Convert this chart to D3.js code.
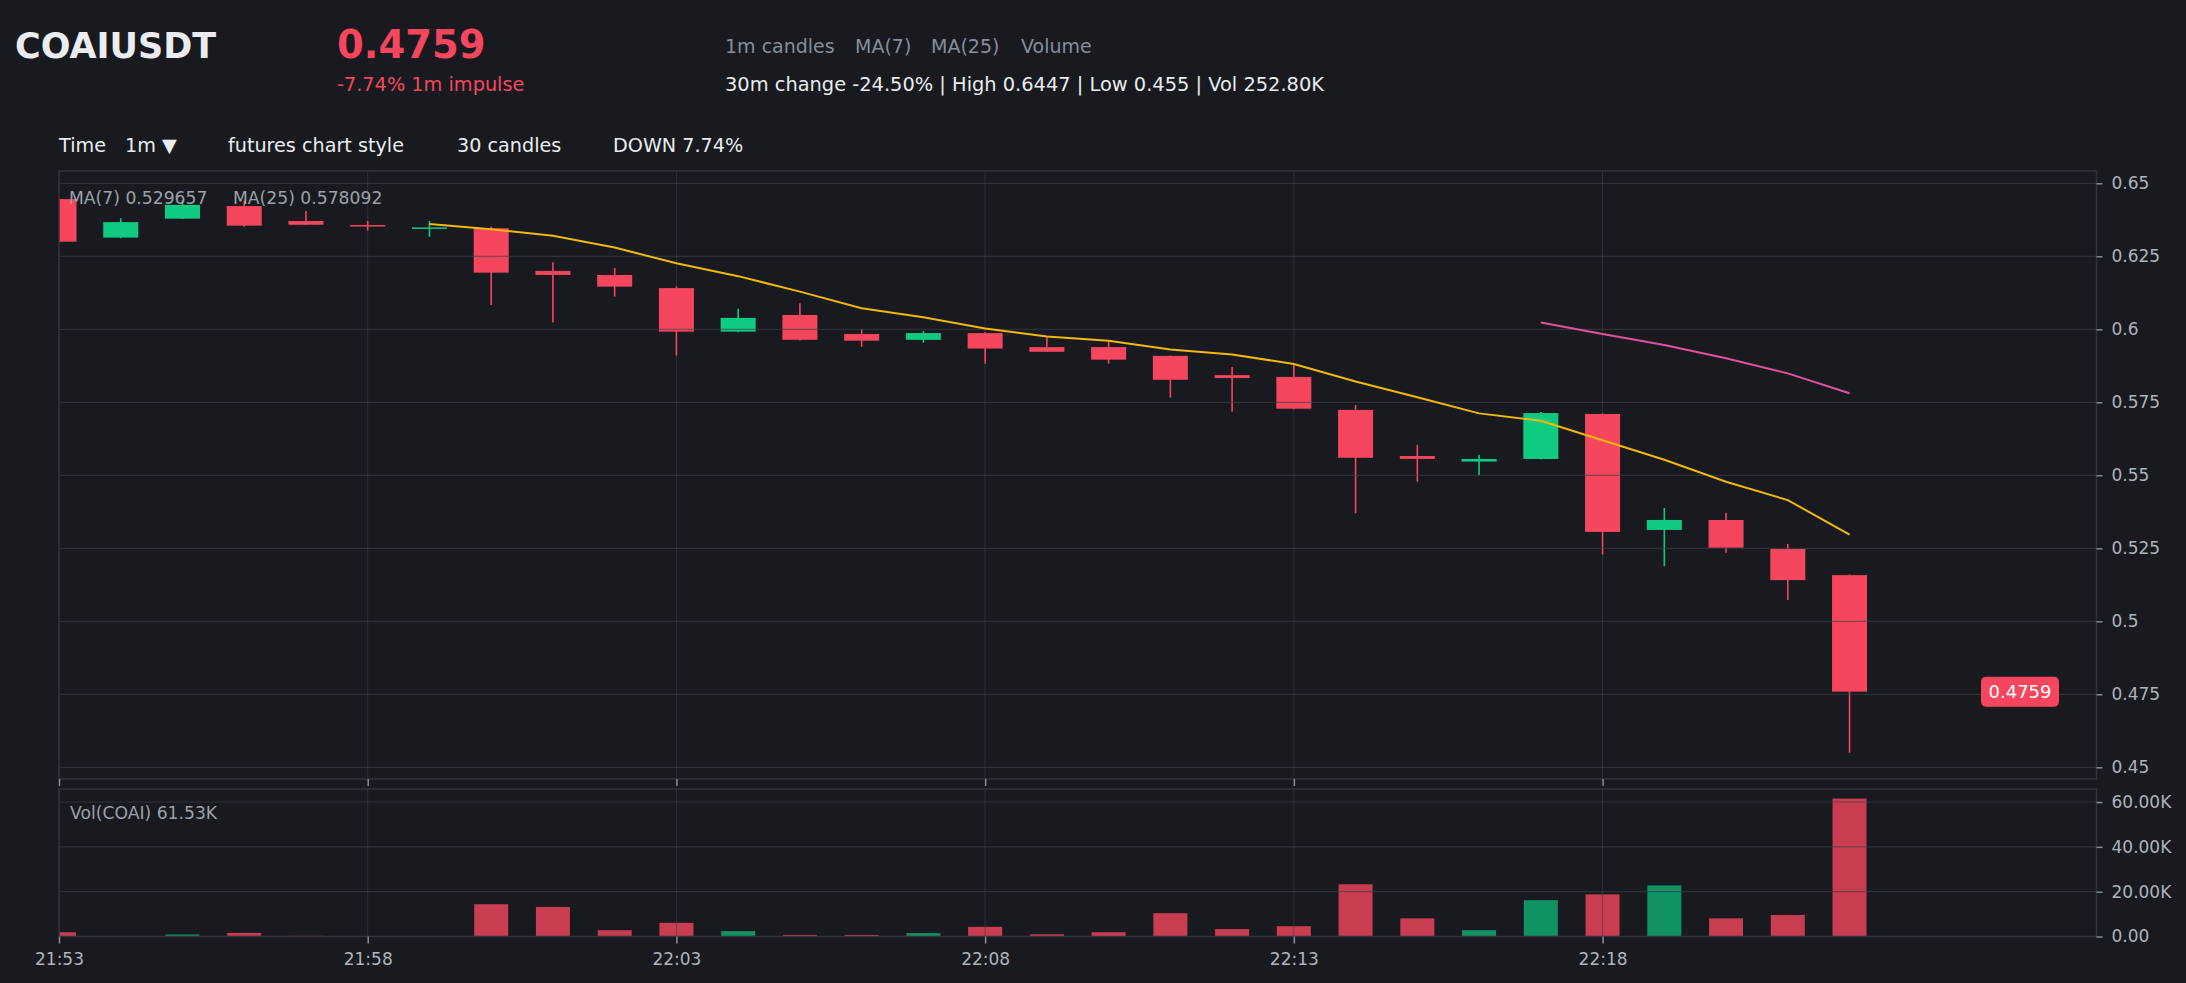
<!DOCTYPE html>
<html><head><meta charset="utf-8">
<script src="https://cdn.jsdelivr.net/npm/d3@7"></script>
<style>
html,body{margin:0;padding:0;background:#181a20;overflow:hidden;}
svg{display:block;font-family:"DejaVu Sans",sans-serif;}
</style></head>
<body>
<svg id="chart" width="2186" height="983"></svg>
<script>
// ---------- data ----------
const times = ["21:53","21:54","21:55","21:56","21:57","21:58","21:59","22:00","22:01","22:02",
               "22:03","22:04","22:05","22:06","22:07","22:08","22:09","22:10","22:11","22:12",
               "22:13","22:14","22:15","22:16","22:17","22:18","22:19","22:20","22:21","22:22"];
const opens  = [0.6446,0.6314,0.6379,0.6422,0.6371,0.6357,0.6346,0.6346,0.6200,0.6186,
                0.6141,0.5992,0.6049,0.5984,0.5964,0.5987,0.5939,0.5939,0.5909,0.5843,
                0.5837,0.5724,0.5566,0.5547,0.5556,0.5710,0.5313,0.5347,0.5248,0.5158];
const highs  = [0.6447,0.6380,0.6443,0.6440,0.6405,0.6371,0.6371,0.6352,0.6230,0.6210,
                0.6147,0.6070,0.6089,0.6001,0.5994,0.5990,0.5973,0.5958,0.5910,0.5871,
                0.5878,0.5741,0.5604,0.5570,0.5717,0.5712,0.5388,0.5372,0.5265,0.5160];
const lows   = [0.6298,0.6312,0.6378,0.6351,0.6357,0.6338,0.6317,0.6083,0.6023,0.6112,
                0.5910,0.5990,0.5962,0.5940,0.5954,0.5882,0.5922,0.5882,0.5766,0.5718,
                0.5726,0.5370,0.5478,0.5501,0.5554,0.5229,0.5189,0.5235,0.5073,0.4550];
const closes = [0.6300,0.6367,0.6426,0.6355,0.6358,0.6355,0.6349,0.6194,0.6186,0.6146,
                0.5992,0.6039,0.5964,0.5961,0.5987,0.5934,0.5923,0.5896,0.5827,0.5833,
                0.5728,0.5560,0.5556,0.5556,0.5713,0.5306,0.5347,0.5252,0.5141,0.4759];
const volumes = [1900,200,900,1600,300,200,200,14400,13200,2800,
                 6100,2400,700,700,1500,4300,1000,1900,10400,3300,
                 4600,23300,8100,2800,16200,18800,22800,8100,9600,61530];
// MA(7) from candle index 6, MA(25) from candle index 24
const ma7Values  = [0.6361,0.6343,0.6320,0.6280,0.6226,0.6182,0.6129,0.6072,0.6041,0.6003,
                    0.5975,0.5961,0.5931,0.5914,0.5881,0.5821,0.5767,0.5712,0.5687,0.5620,
                    0.5553,0.5478,0.5415,0.5297];
const ma25Values = [0.6023,0.5984,0.5946,0.5901,0.5849,0.5781];
const priceTicks = [0.45,0.475,0.5,0.525,0.55,0.575,0.6,0.625,0.65];
const priceTickLabels = ["0.45","0.475","0.5","0.525","0.55","0.575","0.6","0.625","0.65"];
const volTicks = [0,20000,40000,60000];
const volTickLabels = ["0.00","20.00K","40.00K","60.00K"];
const timeTicks = ["21:53","21:58","22:03","22:08","22:13","22:18"];
const xDomain = ["21:53","22:26"];
const priceDomain = [0.44599,0.65421];
const volDomain = [0,65800];
const lastPrice = 0.4759;

// ---------- layout ----------
const W=2186,H=983;
const L=59, R=2096.5, PT=171, PB=779, VT=789, VB=936.5;
const UP="#0ecb81", DOWN="#f6465d";
const GRID="#3c4048";

const parse = d3.timeParse("%H:%M");
const svg = d3.select("#chart");
svg.append("rect").attr("width",W).attr("height",H).attr("fill","#181a20");

const x = d3.scaleTime().domain(xDomain.map(parse)).range([L,R]);
const y = d3.scaleLinear().domain(priceDomain).range([PB,PT]);
const yv = d3.scaleLinear().domain(volDomain).range([VB,VT]);

const candles = times.map((t,i)=>({t:parse(t),o:opens[i],h:highs[i],l:lows[i],c:closes[i],v:volumes[i]}));

const defs = svg.append("defs");
defs.append("clipPath").attr("id","cp").append("rect").attr("x",L).attr("y",PT).attr("width",R-L).attr("height",PB-PT);
defs.append("clipPath").attr("id","cv").append("rect").attr("x",L).attr("y",VT).attr("width",R-L).attr("height",VB-VT);

// ---------- header ----------
const hdr = svg.append("g");
hdr.append("text").attr("x",15).attr("y",46).attr("dominant-baseline","central")
  .attr("font-size",35).attr("font-weight","bold").attr("fill","#eaecef").text("COAIUSDT");
hdr.append("text").attr("x",337).attr("y",44).attr("dominant-baseline","central")
  .attr("font-size",38.5).attr("font-weight","bold").attr("fill",DOWN).text("0.4759");
hdr.append("text").attr("x",337).attr("y",84).attr("dominant-baseline","central")
  .attr("font-size",19.3).attr("fill",DOWN).text("-7.74% 1m impulse");
const topItems = [["1m candles",725],["MA(7)",855],["MA(25)",931],["Volume",1021]];
topItems.forEach(([s,xx])=>hdr.append("text").attr("x",xx).attr("y",46).attr("dominant-baseline","central")
  .attr("font-size",19).attr("fill","#848e9c").text(s));
hdr.append("text").attr("x",725).attr("y",84).attr("dominant-baseline","central")
  .attr("font-size",19.4).attr("fill","#eaecef").text("30m change -24.50% | High 0.6447 | Low 0.455 | Vol 252.80K");
const row2 = [["Time",59],["1m ▼",125],["futures chart style",228],["30 candles",457],["DOWN 7.74%",613]];
row2.forEach(([s,xx])=>hdr.append("text").attr("x",xx).attr("y",145).attr("dominant-baseline","central")
  .attr("font-size",19.2).attr("fill","#eaecef").text(s));

// ---------- vertical grid (under candles) ----------
const vg = svg.append("g");
timeTicks.forEach(t=>{
  const xx = x(parse(t));
  vg.append("line").attr("x1",xx).attr("x2",xx).attr("y1",PT).attr("y2",PB)
    .attr("stroke",GRID).attr("stroke-opacity",0.6).attr("stroke-width",1);
});

// ---------- candles ----------
const pc = svg.append("g").attr("clip-path","url(#cp)");
const bw = 35;
pc.selectAll("line.wick").data(candles).join("line").attr("class","wick")
  .attr("x1",d=>x(d.t)).attr("x2",d=>x(d.t))
  .attr("y1",d=>y(d.h)).attr("y2",d=>y(d.l))
  .attr("stroke",d=>d.c>=d.o?UP:DOWN).attr("stroke-width",1.6);
pc.selectAll("rect.body").data(candles).join("rect").attr("class","body")
  .attr("x",d=>x(d.t)-bw/2).attr("width",bw)
  .attr("y",d=>y(Math.max(d.o,d.c)))
  .attr("height",d=>Math.max(1.5,Math.abs(y(d.o)-y(d.c))))
  .attr("fill",d=>d.c>=d.o?UP:DOWN);

// horizontal grid (over candles)
const hg = svg.append("g");
priceTicks.forEach(p=>{
  hg.append("line").attr("x1",L).attr("x2",R).attr("y1",y(p)).attr("y2",y(p))
    .attr("stroke",GRID).attr("stroke-opacity",0.6).attr("stroke-width",1.2);
});

// ---------- MA lines ----------
const line = d3.line().x(d=>x(d[0])).y(d=>y(d[1]));
svg.append("path").datum(ma7Values.map((v,i)=>[parse(times[i+6]),v]))
  .attr("d",line).attr("fill","none").attr("stroke","#f0b90b").attr("stroke-width",2);
svg.append("path").datum(ma25Values.map((v,i)=>[parse(times[i+24]),v]))
  .attr("d",line).attr("fill","none").attr("stroke","#e0529c").attr("stroke-width",2);

// ---------- price pane border & axes ----------
svg.append("rect").attr("x",L).attr("y",PT).attr("width",R-L).attr("height",PB-PT)
  .attr("fill","none").attr("stroke","#2f333a").attr("stroke-width",1.5);

const yAxis = d3.axisRight(y).tickValues(priceTicks)
  .tickFormat((d,i)=>priceTickLabels[i]).tickSize(6).tickPadding(9);
const ya = svg.append("g").attr("transform",`translate(${R},0)`).call(yAxis);
ya.select(".domain").remove();
ya.selectAll(".tick line").attr("stroke","#848e9c").attr("stroke-width",1.5);
ya.selectAll(".tick text").attr("fill","#aeb4bc").attr("font-size",17).attr("font-family","DejaVu Sans");

const xAxisTop = d3.axisBottom(x).tickValues(timeTicks.map(parse)).tickFormat("").tickSize(7);
const xat = svg.append("g").attr("transform",`translate(0,${PB})`).call(xAxisTop);
xat.select(".domain").remove();
xat.selectAll(".tick line").attr("stroke","#848e9c").attr("stroke-width",1.5);

// last price tag
const lpY = y(lastPrice);
svg.append("rect").attr("x",1981).attr("y",lpY-15).attr("width",78).attr("height",30).attr("rx",5)
  .attr("fill",DOWN);
svg.append("text").attr("x",2020).attr("y",lpY).attr("text-anchor","middle").attr("dominant-baseline","central")
  .attr("font-size",18).attr("fill","#ffffff").text("0.4759");

// MA legend
svg.append("text").attr("x",69).attr("y",198).attr("dominant-baseline","central")
  .attr("font-size",17.2).attr("fill","#9ba1aa").text("MA(7) 0.529657");
svg.append("text").attr("x",233).attr("y",198).attr("dominant-baseline","central")
  .attr("font-size",17.2).attr("fill","#9ba1aa").text("MA(25) 0.578092");

// ---------- volume pane ----------
const vc = svg.append("g").attr("clip-path","url(#cv)");
vc.selectAll("rect.vol").data(candles).join("rect").attr("class","vol")
  .attr("x",d=>x(d.t)-17).attr("width",34)
  .attr("y",d=>yv(d.v)).attr("height",d=>VB-yv(d.v))
  .attr("fill",d=>d.c>=d.o?UP:DOWN).attr("fill-opacity",d=>d.c>=d.o?0.68:0.8);
timeTicks.forEach(t=>{
  const xx = x(parse(t));
  vc.append("line").attr("x1",xx).attr("x2",xx).attr("y1",VT).attr("y2",VB)
    .attr("stroke",GRID).attr("stroke-opacity",0.6).attr("stroke-width",1);
});
volTicks.forEach(v=>{
  vc.append("line").attr("x1",L).attr("x2",R).attr("y1",yv(v)).attr("y2",yv(v))
    .attr("stroke",GRID).attr("stroke-opacity",0.6).attr("stroke-width",1.2);
});
svg.append("rect").attr("x",L).attr("y",VT).attr("width",R-L).attr("height",VB-VT)
  .attr("fill","none").attr("stroke","#2f333a").attr("stroke-width",1.5);

const yvAxis = d3.axisRight(yv).tickValues(volTicks)
  .tickFormat((d,i)=>volTickLabels[i]).tickSize(6).tickPadding(9);
const yva = svg.append("g").attr("transform",`translate(${R},0)`).call(yvAxis);
yva.select(".domain").remove();
yva.selectAll(".tick line").attr("stroke","#848e9c").attr("stroke-width",1.5);
yva.selectAll(".tick text").attr("fill","#aeb4bc").attr("font-size",17).attr("font-family","DejaVu Sans");

const xAxis = d3.axisBottom(x).tickValues(timeTicks.map(parse))
  .tickFormat(d3.timeFormat("%H:%M")).tickSize(7).tickPadding(9);
const xa = svg.append("g").attr("transform",`translate(0,${VB})`).call(xAxis);
xa.select(".domain").remove();
xa.selectAll(".tick line").attr("stroke","#848e9c").attr("stroke-width",1.5);
xa.selectAll(".tick text").attr("fill","#aeb4bc").attr("font-size",17).attr("font-family","DejaVu Sans");

svg.append("text").attr("x",70).attr("y",813).attr("dominant-baseline","central")
  .attr("font-size",17.2).attr("fill","#9ba1aa").text("Vol(COAI) 61.53K");
</script>
</body></html>
